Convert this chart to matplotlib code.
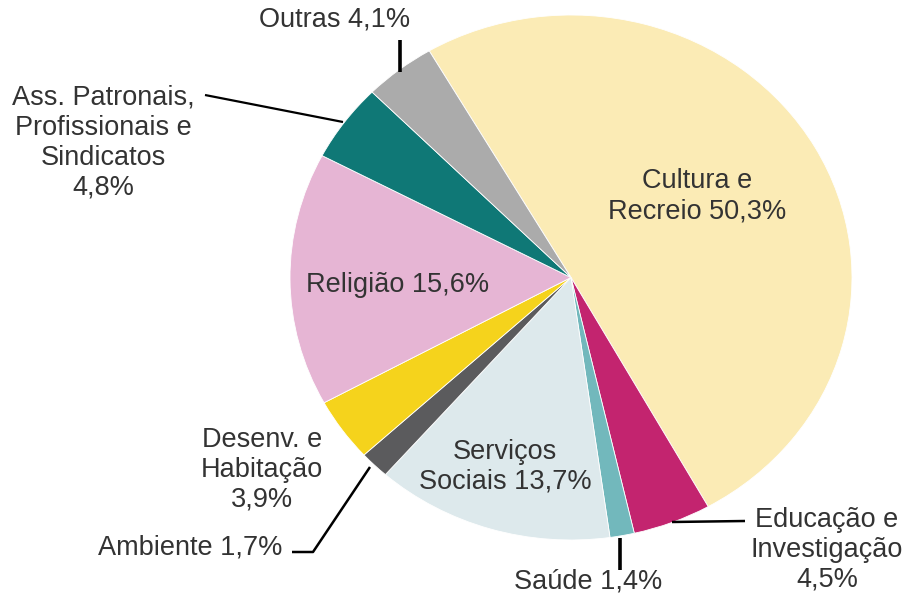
import matplotlib.pyplot as plt

# data
names = ['Cultura e\nRecreio', 'Educação e\nInvestigação', 'Saúde', 'Serviços\nSociais',
         'Ambiente', 'Desenv. e\nHabitação', 'Religião',
         'Ass. Patronais,\nProfissionais e\nSindicatos', 'Outras']
shares = [50.3, 4.5, 1.4, 13.7, 1.7, 3.9, 15.6, 4.8, 4.1]
value_sep = [' ', '\n', ' ', ' ', ' ', '\n', ' ', '\n', ' ']

colors = ['#fbebb5', '#c3246f', '#72b8bc', '#dde9ec', '#5b5b5d',
          '#f5d31c', '#e6b5d4', '#0f7876', '#ababab']

# label placement in pixels (x, y from top)
label_pos = [(697, 196), (827, 550), (588, 582), (505, 467), (190, 548),
             (262, 470), (398, 285), (103, 143), (335, 20)]

leaders = [
    ([400, 400], [40, 72], 2.6),
    ([205, 343], [95, 122], 1.6),
    ([292, 313, 370], [552, 552, 467], 1.8),
    ([620, 620], [538, 570], 2.6),
    ([672, 745], [522, 521], 1.8),
]

W, H = 909, 594
fig = plt.figure(figsize=(W / 100, H / 100), dpi=100)

# pie box slightly wider than tall, as in the original
ax = fig.add_axes([290 / W, (H - 540) / H, 562 / W, 525 / H])
ax.pie(shares, colors=colors, startangle=120.3, counterclock=False,
       radius=1, wedgeprops=dict(linewidth=0.6, edgecolor='white'))
ax.set_aspect('auto')
ax.set_xlim(-1, 1)
ax.set_ylim(-1, 1)
ax.axis('off')

over = fig.add_axes([0, 0, 1, 1], zorder=5)
over.set_xlim(0, W)
over.set_ylim(H, 0)
over.axis('off')

for name, val, sep, (x, y) in zip(names, shares, value_sep, label_pos):
    txt = name + sep + f'{val:.1f}'.replace('.', ',') + '%'
    over.text(x, y, txt, ha='center', va='center', multialignment='center',
              fontsize=19.5, family='Liberation Sans', color='#333333',
              linespacing=1.2)

for xs, ys, lw in leaders:
    over.plot(xs, ys, color='black', lw=lw, solid_capstyle='butt')

fig.savefig('out.png', dpi=100, facecolor='white')
